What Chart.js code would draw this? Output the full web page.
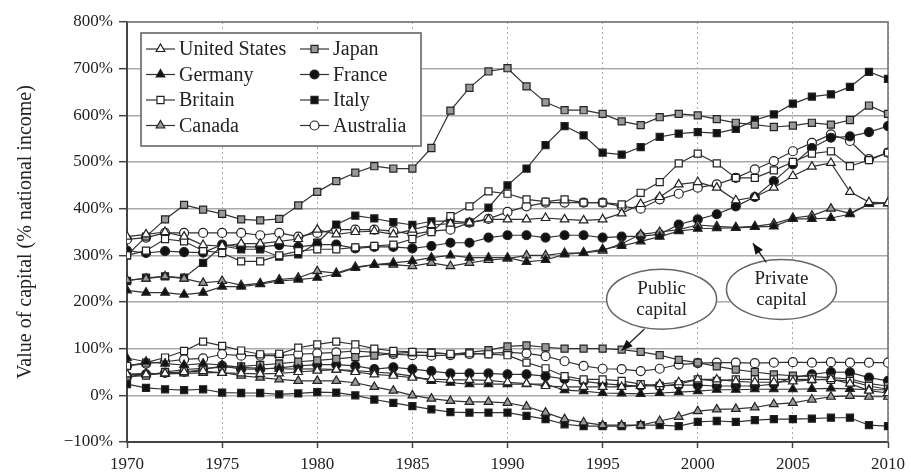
<!DOCTYPE html>
<html><head><meta charset="utf-8">
<script src="https://cdn.jsdelivr.net/npm/chart.js@4/dist/chart.umd.min.js"></script>
<style>html,body{margin:0;padding:0;background:#fff;}#wrap{width:911px;height:474px;}</style>
</head><body><div id="wrap"><canvas id="c" width="911" height="474"></canvas></div>
<script>
const years = [1970,1971,1972,1973,1974,1975,1976,1977,1978,1979,1980,1981,1982,1983,1984,1985,1986,1987,1988,1989,1990,1991,1992,1993,1994,1995,1996,1997,1998,1999,2000,2001,2002,2003,2004,2005,2006,2007,2008,2009,2010];
const countries = ["United States","Germany","Britain","Canada","Japan","France","Italy","Australia"];

// Private capital (% of national income)
const usPriv = [340,345,350,340,322,320,325,325,330,335, 355,345,350,352,345,355,365,368,370,377, 377,377,380,377,375,377,390,410,425,452, 457,445,418,425,445,470,490,498,436,414,412];
const dePriv = [225,220,220,216,220,233,233,238,245,248, 252,260,273,280,284,288,295,300,295,295, 295,286,290,302,306,313,320,330,340,352, 357,358,359,361,362,378,378,380,388,410,412];
const gbPriv = [300,310,335,330,310,305,287,287,300,309, 313,313,317,320,323,335,350,384,405,437, 432,420,415,420,413,413,409,434,457,497, 518,497,466,466,482,500,518,523,491,504,520];
const caPriv = [247,250,255,250,241,245,236,240,248,252, 266,262,275,280,280,277,284,277,284,290, 293,300,300,305,305,310,325,345,350,355, 365,362,360,362,368,380,385,400,390,410,412];
const jpPriv = [300,340,377,408,398,389,377,375,378,407, 436,459,477,491,486,486,530,610,659,694, 701,662,628,611,611,603,587,579,596,603, 600,592,584,580,575,578,584,580,590,621,603];
const frPriv = [310,305,309,307,306,323,318,318,322,318, 323,323,315,318,318,315,320,327,327,338, 343,343,338,343,343,338,340,341,345,366, 377,388,405,425,459,495,530,552,555,564,577];
const itPriv = [245,252,255,252,284,320,313,313,297,302, 327,366,385,379,371,365,373,374,370,402, 450,486,536,577,557,520,516,532,554,561, 564,562,571,590,602,625,640,645,661,693,678];
const auPriv = [334,338,348,348,348,348,348,343,348,340, 348,355,355,355,352,345,352,355,370,378, 393,405,413,413,413,413,405,400,420,432, 445,452,466,484,502,523,541,559,545,506,520];

// Public capital (% of national income)
const usPub = [45,45,47,50,52,48,47,46,47,50, 53,55,50,45,42,38,35,33,33,32, 28,25,20,18,18,18,18,20,24,28, 34,34,30,28,28,30,33,35,25,10,5];
const dePub = [80,72,68,65,68,65,60,58,57,56, 57,55,53,50,47,41,31,27,24,24, 24,24,24,11,9,5,4,3,5,7, 9,12,12,13,13,13,14,15,14,12,12];
const gbPub = [63,70,81,95,115,106,96,88,89,102, 109,115,109,100,95,93,91,89,90,88, 86,70,58,41,34,34,31,24,20,24, 34,31,34,34,34,34,34,33,31,20,13];
const caPub = [45,47,46,47,48,49,42,38,34,31, 31,31,27,18,10,0,-7,-12,-14,-14, -16,-24,-37,-51,-58,-64,-64,-64,-55,-46, -34,-30,-29,-26,-19,-16,-9,-3,-1,-3,-3];
const jpPub = [40,42,50,55,58,60,62,65,68,72, 75,78,82,85,90,92,92,88,92,97, 105,107,103,100,100,100,98,93,86,76, 70,62,55,50,45,42,40,38,35,25,20];
const frPub = [40,45,48,50,55,63,56,56,59,63, 66,66,63,56,60,56,52,47,47,47, 45,45,41,35,30,25,22,20,20,22, 22,20,20,20,24,38,45,50,49,38,31];
const itPub = [24,16,13,11,13,6,5,5,2,4, 7,6,0,-9,-16,-23,-30,-36,-37,-37, -37,-44,-51,-62,-66,-66,-66,-64,-64,-66, -57,-55,-57,-53,-51,-51,-50,-48,-48,-64,-66];
const auPub = [63,68,72,77,79,88,85,85,85,88, 90,92,95,92,88,86,85,86,88,90, 92,90,84,73,63,57,56,52,57,66, 69,70,70,69,70,71,70,71,70,70,70];

const yTicks = [-100,0,100,200,300,400,500,600,700,800];
const xTicks = [1970,1975,1980,1985,1990,1995,2000,2005,2010];
const annotations = [
  {lines:["Public","capital"], cx:1998.1, cy:206, tail:[1997.2,142], tip:[1996.0,96]},
  {lines:["Private","capital"], cx:2004.4, cy:227, tail:[2003.6,285], tip:[2002.9,326]}
];

const privSeries = [usPriv,dePriv,gbPriv,caPriv,jpPriv,frPriv,itPriv,auPriv];
const pubSeries = [usPub,dePub,gbPub,caPub,jpPub,frPub,itPub,auPub];

const styles = [
  {ps:'triangle', bg:'#ffffff', r:5},
  {ps:'triangle', bg:'#111111', r:5},
  {ps:'rect', bg:'#ffffff', r:5},
  {ps:'triangle', bg:'#9a9a9a', r:5},
  {ps:'rect', bg:'#9a9a9a', r:5},
  {ps:'circle', bg:'#111111', r:4.5},
  {ps:'rect', bg:'#111111', r:5},
  {ps:'circle', bg:'#ffffff', r:4.5}
];
const LINE = '#333';
const SERIF = '"Liberation Serif", "DejaVu Serif", serif';

function mk(vals, i, label) {
  const st = styles[i];
  return {
    label: label,
    data: years.map((y, k) => ({x: y, y: vals[k]})),
    borderColor: LINE, borderWidth: 1.2,
    pointStyle: st.ps, pointRadius: st.r, pointBackgroundColor: st.bg,
    pointBorderColor: '#222', pointBorderWidth: 1.2,
    tension: 0, fill: false
  };
}
const datasets = [];
countries.forEach((c, i) => datasets.push(mk(privSeries[i], i, c)));
countries.forEach((c, i) => datasets.push(mk(pubSeries[i], i, c + ' (public)')));

const framePlugin = {
  id: 'frame',
  beforeDatasetsDraw(chart) {
    const {ctx, chartArea: a} = chart;
    ctx.save();
    ctx.strokeStyle = '#777'; ctx.lineWidth = 1.6;
    ctx.beginPath();
    ctx.moveTo(a.left, a.top); ctx.lineTo(a.right, a.top); ctx.lineTo(a.right, a.bottom);
    ctx.stroke();
    ctx.restore();
  }
};

const legendPlugin = {
  id: 'boxLegend',
  afterDraw(chart) {
    const {ctx} = chart;
    const bx = 141, by = 33, bw = 280, bh = 113;
    ctx.save();
    ctx.fillStyle = '#fff'; ctx.fillRect(bx, by, bw, bh);
    ctx.strokeStyle = '#666'; ctx.lineWidth = 1.6; ctx.strokeRect(bx, by, bw, bh);
    ctx.font = '20px ' + SERIF; ctx.fillStyle = '#222'; ctx.textBaseline = 'middle';
    for (let i = 0; i < 8; i++) {
      const col = Math.floor(i / 4), row = i % 4;
      const x0 = col === 0 ? 146 : 300;
      const y = 49 + row * 25.5;
      const st = styles[i];
      ctx.strokeStyle = LINE; ctx.lineWidth = 1.2;
      ctx.beginPath(); ctx.moveTo(x0, y); ctx.lineTo(x0 + 29, y); ctx.stroke();
      ctx.fillStyle = st.bg; ctx.strokeStyle = '#222'; ctx.lineWidth = 1.2;
      Chart.helpers.drawPoint(ctx, {pointStyle: st.ps, radius: st.r, borderWidth: 1.2, rotation: 0}, x0 + 14.5, y);
      ctx.fillStyle = '#222';
      ctx.fillText(countries[i], x0 + 33, y + 1);
    }
    ctx.restore();
  }
};

const annotPlugin = {
  id: 'annot',
  afterDraw(chart) {
    const {ctx, scales: {x, y}} = chart;
    ctx.save();
    annotations.forEach(an => {
      const cx = x.getPixelForValue(an.cx), cy = y.getPixelForValue(an.cy);
      ctx.fillStyle = '#fff'; ctx.strokeStyle = '#666'; ctx.lineWidth = 1.5;
      ctx.beginPath(); ctx.ellipse(cx, cy, 55, 30, 0, 0, Math.PI * 2); ctx.fill(); ctx.stroke();
      ctx.fillStyle = '#222'; ctx.font = '19px ' + SERIF; ctx.textAlign = 'center'; ctx.textBaseline = 'middle';
      ctx.fillText(an.lines[0], cx, cy - 10);
      ctx.fillText(an.lines[1], cx, cy + 11);
      const tx = x.getPixelForValue(an.tail[0]), ty = y.getPixelForValue(an.tail[1]);
      const px = x.getPixelForValue(an.tip[0]), py = y.getPixelForValue(an.tip[1]);
      ctx.strokeStyle = '#222'; ctx.lineWidth = 1.3;
      ctx.beginPath(); ctx.moveTo(tx, ty); ctx.lineTo(px, py); ctx.stroke();
      const ang = Math.atan2(py - ty, px - tx), L = 11, W = 4.5;
      ctx.fillStyle = '#111';
      ctx.beginPath();
      ctx.moveTo(px, py);
      ctx.lineTo(px - L * Math.cos(ang) + W * Math.sin(ang), py - L * Math.sin(ang) - W * Math.cos(ang));
      ctx.lineTo(px - L * Math.cos(ang) - W * Math.sin(ang), py - L * Math.sin(ang) + W * Math.cos(ang));
      ctx.closePath(); ctx.fill();
    });
    ctx.restore();
  }
};

new Chart(document.getElementById('c'), {
  type: 'line',
  data: {datasets},
  plugins: [framePlugin, legendPlugin, annotPlugin],
  options: {
    responsive: false, devicePixelRatio: 1, animation: false,
    layout: {padding: {top: 22, right: 21, left: 0, bottom: 0}},
    plugins: {legend: {display: false}, tooltip: {enabled: false}},
    scales: {
      x: {
        type: 'linear', min: 1970, max: 2010,
        afterBuildTicks(s) { s.ticks = xTicks.map(v => ({value: v})); },
        ticks: {color: '#222', font: {family: SERIF, size: 17}, padding: 6, maxRotation: 0, autoSkip: false,
                callback: v => String(v)},
        grid: {color: '#aaa', lineWidth: 1, drawTicks: true, tickLength: 6, tickColor: '#444', tickWidth: 1.5},
        border: {display: true, color: '#444', width: 2, dash: [2, 3]},
        afterFit(s) { s.height = 32; }
      },
      y: {
        min: -100, max: 800,
        afterBuildTicks(s) { s.ticks = yTicks.map(v => ({value: v})); },
        ticks: {color: '#222', font: {family: SERIF, size: 17}, padding: 6,
                callback: v => (v < 0 ? '\u2212' + Math.abs(v) : v) + '%'},
        grid: {color: '#aaa', lineWidth: 1.4, drawTicks: true, tickLength: 8, tickColor: '#444', tickWidth: 1.5},
        border: {display: true, color: '#444', width: 2},
        title: {display: true, text: 'Value of capital (% national income)', color: '#222',
                font: {family: SERIF, size: 20}, padding: {top: 14, bottom: 0}},
        afterFit(s) { s.width = 127; }
      }
    }
  }
});
</script>
</body></html>
